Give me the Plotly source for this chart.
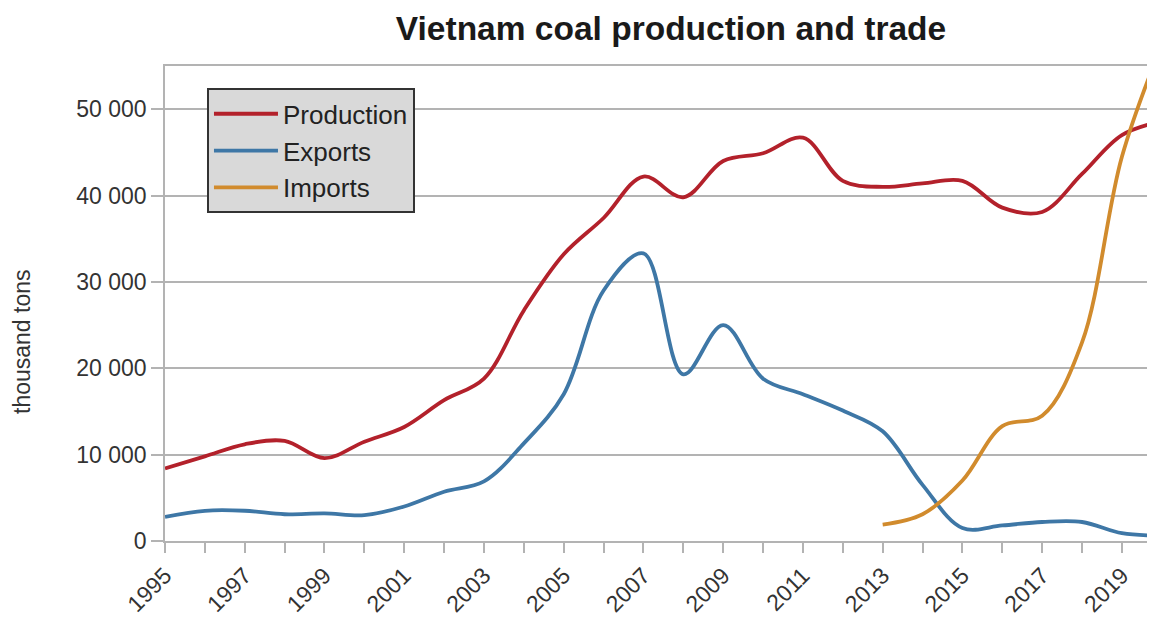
import plotly.graph_objects as go

years = list(range(1995, 2021))
production = [8400, 9800, 11200, 11600, 9600, 11500, 13200, 16300, 18800, 26700,
              33200, 37400, 42200, 39800, 44000, 44900, 46700, 41700, 41000, 41400,
              41700, 38600, 38100, 42500, 47000, 48600]
exports = [2800, 3500, 3500, 3100, 3200, 3000, 4000, 5700, 6900, 11300,
           17000, 29000, 33300, 19300, 25000, 18800, 17000, 15100, 12700, 6500,
           1500, 1800, 2200, 2200, 900, 600]
import_years = list(range(2013, 2021))
imports = [1900, 3100, 7000, 13300, 14500, 23000, 44500, 57500]

x_tick_years = years[:-1]
x_tick_labels = [str(y) if y % 2 == 1 else "" for y in x_tick_years]
y_tick_vals = [0, 10000, 20000, 30000, 40000, 50000]
y_tick_text = [f"{v:,}".replace(",", " ") for v in y_tick_vals]

FONT = "Liberation Sans, Arial, sans-serif"
GRID = "#b3b3b3"

# the page body adds an 8px offset, so the figure is sized to fill the rest of the window
W, H = 1147, 610
ML, MT, MB = 157, 58, 77

fig = go.Figure()
fig.add_trace(go.Scatter(x=years, y=production, name="Production", mode="lines",
                         line=dict(color="#b3212b", width=3.8, shape="spline", smoothing=1)))
fig.add_trace(go.Scatter(x=years, y=exports, name="Exports", mode="lines",
                         line=dict(color="#3e77a6", width=3.8, shape="spline", smoothing=1)))
fig.add_trace(go.Scatter(x=import_years, y=imports, name="Imports", mode="lines",
                         line=dict(color="#d18b2d", width=3.8, shape="spline", smoothing=1)))

fig.update_layout(
    width=W, height=H,
    margin=dict(l=ML, r=0, t=MT, b=MB, autoexpand=False),
    paper_bgcolor="white", plot_bgcolor="white",
    font=dict(family=FONT, size=23, color="#333333"),
    title=dict(text="<b>Vietnam coal production and trade</b>",
               font=dict(family=FONT, size=33.5, color="#1a1a1a"),
               xref="container", x=663 / W, xanchor="center",
               yref="container", y=1 - 20 / H, yanchor="middle"),
    legend=dict(x=0.0424, y=0.953, xanchor="left", yanchor="top",
                bgcolor="#d9d9d9", bordercolor="#333333", borderwidth=2,
                font=dict(family=FONT, size=26, color="#222222"),
                itemwidth=64, traceorder="normal"),
    showlegend=True,
    annotations=[dict(text="thousand tons", textangle=-90, showarrow=False,
                      xref="paper", yref="paper", x=-143 / 990, y=0.419,
                      xanchor="center", yanchor="middle",
                      font=dict(family=FONT, size=23, color="#333333"))],
)

fig.update_xaxes(
    range=[1995, 2019.83], tickmode="array", tickvals=x_tick_years, ticktext=x_tick_labels,
    tickangle=-45, showgrid=False, zeroline=False,
    showline=True, linecolor=GRID, linewidth=2, mirror=True,
    ticks="outside", ticklen=10, tickcolor=GRID, tickwidth=1.5,
    tickfont=dict(family=FONT, size=23, color="#333333"),
)
fig.update_yaxes(
    range=[0, 55000], tickmode="array", tickvals=y_tick_vals, ticktext=y_tick_text,
    showgrid=True, gridcolor=GRID, gridwidth=1.5, zeroline=False,
    showline=True, linecolor=GRID, linewidth=1.5,
    ticks="outside", ticklen=12, tickcolor=GRID, tickwidth=1.5,
    tickfont=dict(family=FONT, size=23, color="#333333"),
)

fig.write_html("out.html")
